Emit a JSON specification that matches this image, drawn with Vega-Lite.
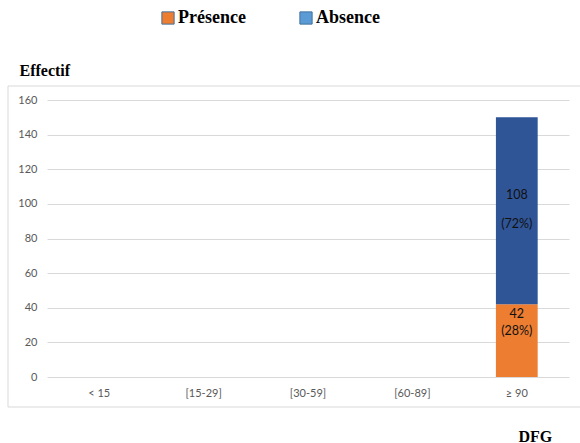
{
  "$schema": "https://vega.github.io/schema/vega-lite/v6.json",
  "width": 522,
  "height": 277,
  "autosize": {"type": "none"},
  "padding": {"left": 47, "top": 100, "right": 11, "bottom": 66},
  "background": "#ffffff",
  "config": {"view": {"stroke": null}, "axisY": {"tickCount": 9, "labelOverlap": false}},
  "data": {
    "values": [
      {"dfg": "≥ 90", "serie": "Présence", "n": 42, "pct": 28},
      {"dfg": "≥ 90", "serie": "Absence", "n": 108, "pct": 72}
    ]
  },
  "transform": [
    {"stack": "n", "groupby": ["dfg"], "sort": [{"field": "serie", "order": "descending"}], "as": ["y0", "y1"]},
    {"calculate": "(datum.y0 + datum.y1) / 2", "as": "ymid"},
    {"calculate": "'(' + datum.pct + '%)'", "as": "pctLabel"}
  ],
  "layer": [
    {
      "data": {"values": [{}]},
      "mark": {"type": "rect", "fill": null, "stroke": "#d9d9d9", "strokeWidth": 1},
      "encoding": {
        "x": {"value": -39},
        "x2": {"value": 540},
        "y": {"value": -14},
        "y2": {"value": 307}
      }
    },
    {
      "mark": {"type": "bar"},
      "encoding": {
        "x": {
          "field": "dfg",
          "type": "nominal",
          "sort": null,
          "scale": {"domain": ["< 15", "[15-29]", "[30-59]", "[60-89]", "≥ 90"], "paddingInner": 0.6, "paddingOuter": 0.3},
          "axis": {
            "title": "DFG",
            "titleX": 471,
            "titleY": 64,
            "titleAlign": "left",
            "titleBaseline": "alphabetic",
            "titleFont": "Liberation Serif",
            "titleFontSize": 16,
            "titleFontWeight": "bold",
            "titleColor": "#000000",
            "labelAngle": 0,
            "labelFont": "Lato",
            "labelFontSize": 11,
            "labelColor": "#595959",
            "labelPadding": 10,
            "domain": false,
            "ticks": false,
            "grid": false
          }
        },
        "y": {
          "field": "y1",
          "type": "quantitative",
          "scale": {"domain": [0, 160], "nice": false},
          "axis": {
            "title": "Effectif",
            "titleAngle": 0,
            "titleX": -28,
            "titleY": -25,
            "titleAlign": "left",
            "titleBaseline": "alphabetic",
            "titleFont": "Liberation Serif",
            "titleFontSize": 16,
            "titleFontWeight": "bold",
            "titleColor": "#000000",
            "values": [0, 20, 40, 60, 80, 100, 120, 140, 160],
            "grid": true,
            "gridColor": "#d9d9d9",
            "domain": false,
            "ticks": false,
            "labelFont": "Lato",
            "labelFontSize": 11,
            "labelColor": "#595959",
            "labelPadding": 10
          }
        },
        "y2": {"field": "y0"},
        "color": {
          "field": "serie",
          "type": "nominal",
          "scale": {"domain": ["Absence", "Présence"], "range": ["#2f5597", "#ed7d31"]},
          "legend": null
        }
      }
    },
    {
      "transform": [{"filter": "false"}],
      "mark": {"type": "square", "stroke": "#41719c", "strokeWidth": 1, "opacity": 1},
      "encoding": {
        "x": {"field": "dfg", "type": "nominal"},
        "y": {"field": "y1", "type": "quantitative"},
        "fill": {
          "field": "serie",
          "type": "nominal",
          "scale": {"domain": ["Présence", "Absence"], "range": ["#ed7d31", "#5b9bd5"]},
          "legend": {
            "title": null,
            "orient": "none",
            "legendX": 112,
            "legendY": -91,
            "direction": "horizontal",
            "symbolType": "square",
            "symbolSize": 150,
            "symbolStrokeWidth": 1,
            "symbolStrokeColor": "#41719c",
            "symbolOpacity": 1,
            "labelFont": "Liberation Serif",
            "labelFontSize": 18,
            "labelFontWeight": "bold",
            "labelColor": "#000000",
            "labelOffset": 1,
            "labelExpr": "datum.label === 'Absence' ? '\u00a0\u00a0Absence' : datum.label",
            "columnPadding": 51
          }
        }
      }
    },
    {
      "transform": [{"filter": "datum.serie === 'Absence'"}],
      "mark": {"type": "text", "font": "Lato", "fontSize": 12.5, "color": "#111111", "baseline": "middle", "yOffset": -16},
      "encoding": {
        "x": {"field": "dfg", "type": "nominal"},
        "y": {"field": "ymid", "type": "quantitative"},
        "text": {"field": "n", "type": "quantitative"}
      }
    },
    {
      "transform": [{"filter": "datum.serie === 'Absence'"}],
      "mark": {"type": "text", "font": "Lato", "fontSize": 12.5, "color": "#111111", "baseline": "middle", "yOffset": 13},
      "encoding": {
        "x": {"field": "dfg", "type": "nominal"},
        "y": {"field": "ymid", "type": "quantitative"},
        "text": {"field": "pctLabel", "type": "nominal"}
      }
    },
    {
      "transform": [{"filter": "datum.serie === 'Présence'"}],
      "mark": {"type": "text", "font": "Lato", "fontSize": 12.5, "color": "#111111", "baseline": "middle", "yOffset": -27},
      "encoding": {
        "x": {"field": "dfg", "type": "nominal"},
        "y": {"field": "ymid", "type": "quantitative"},
        "text": {"field": "n", "type": "quantitative"}
      }
    },
    {
      "transform": [{"filter": "datum.serie === 'Présence'"}],
      "mark": {"type": "text", "font": "Lato", "fontSize": 12.5, "color": "#111111", "baseline": "middle", "yOffset": -10},
      "encoding": {
        "x": {"field": "dfg", "type": "nominal"},
        "y": {"field": "ymid", "type": "quantitative"},
        "text": {"field": "pctLabel", "type": "nominal"}
      }
    }
  ]
}
